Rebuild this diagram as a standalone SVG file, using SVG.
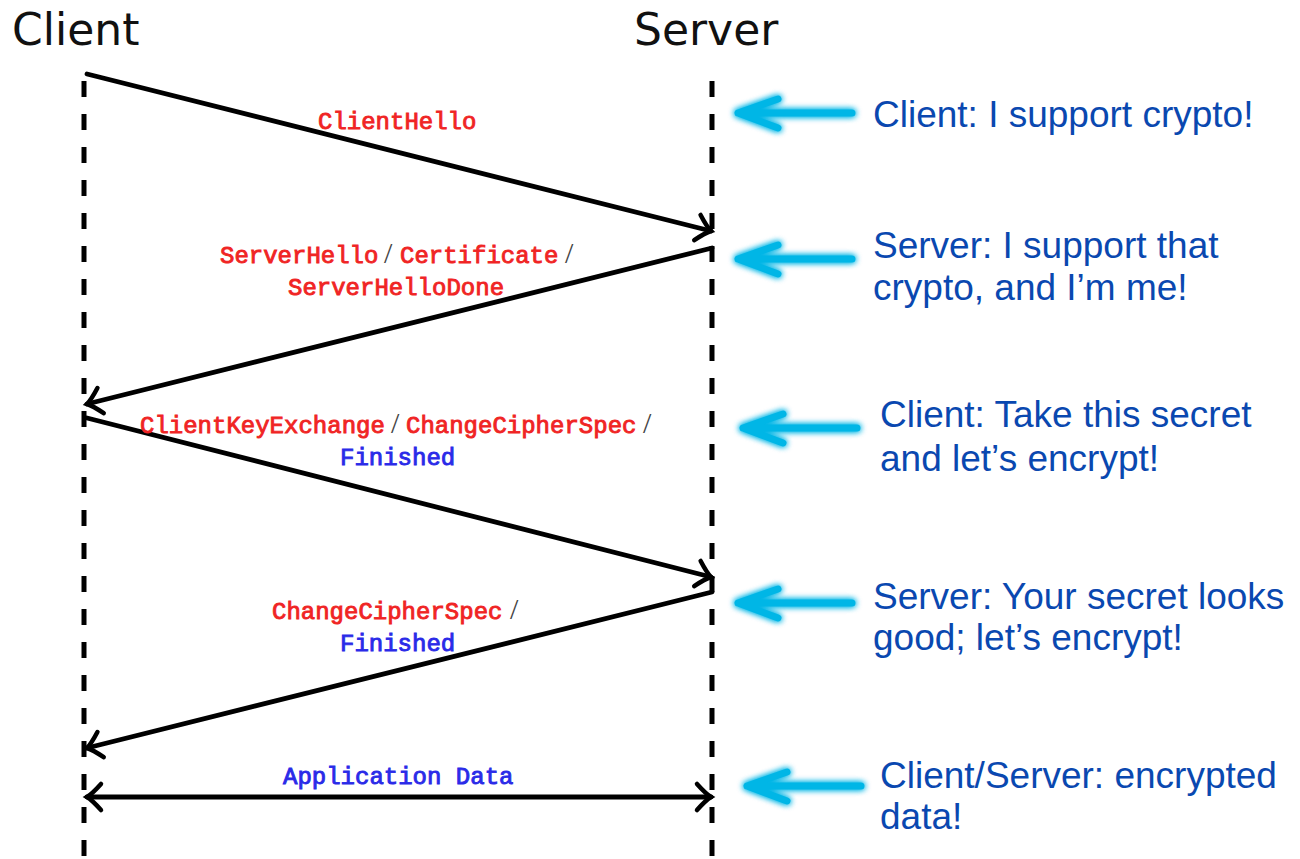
<svg xmlns="http://www.w3.org/2000/svg" width="1300" height="859" viewBox="0 0 1300 859">
  <style>
    .title { font-family: "DejaVu Sans", "Liberation Sans", sans-serif; font-size: 44px; fill: #111; }
    .life { stroke: #000; stroke-width: 5; stroke-dasharray: 16 17; fill: none; }
    .msg { stroke: #000; stroke-width: 4.8; fill: none; stroke-linecap: round; }
    .lbl { font-family: "Liberation Mono", "Courier New", monospace; font-size: 24px; stroke-width: 0.9px; }
    .red { fill: #f02424; stroke: #f02424; }
    .blue { fill: #2a2ae8; stroke: #2a2ae8; }
    .sl { font-family: "Liberation Serif", serif; font-size: 30px; fill: #444; }
    .note { font-family: "Liberation Sans", Arial, sans-serif; font-size: 37px; fill: #0a48b0; }
    .cyan { stroke: #00b6e6; stroke-width: 7; fill: none; stroke-linecap: round; stroke-linejoin: round; }
  </style>
  <defs>
    <marker id="tip" viewBox="-20 -20 24 40" refX="0" refY="0" markerWidth="24" markerHeight="40" markerUnits="userSpaceOnUse" orient="auto-start-reverse" overflow="visible">
      <path d="M -14,-13 Q -5,-3 0,0 Q -5,3 -14,13" fill="none" stroke="#000" stroke-width="4.5" stroke-linecap="round"/>
    </marker>
    <filter id="glow" x="-20%" y="-60%" width="140%" height="220%">
      <feGaussianBlur in="SourceGraphic" stdDeviation="3" result="b"/>
      <feMerge>
        <feMergeNode in="b"/>
        <feMergeNode in="b"/>
        <feMergeNode in="SourceGraphic"/>
      </feMerge>
    </filter>
    <path id="note-arrow" class="cyan" d="M 0,0 H 114 M 40,-14 L 0,0 L 40,15"/>
  </defs>
  <rect width="1300" height="859" fill="#fff"/>

  <!-- participants -->
  <g id="client">
    <text class="title" x="12" y="45">Client</text>
    <line class="life" x1="84" y1="81" x2="84" y2="859"/>
  </g>
  <g id="server">
    <text class="title" x="634" y="45">Server</text>
    <line class="life" x1="712" y1="81" x2="712" y2="859"/>
  </g>

  <!-- handshake messages -->
  <g id="connectors">
    <line class="msg" x1="87" y1="74" x2="711" y2="231" marker-end="url(#tip)"/>
    <line class="msg" x1="712" y1="248" x2="87" y2="404" marker-end="url(#tip)"/>
    <line class="msg" x1="87" y1="418" x2="711" y2="577" marker-end="url(#tip)"/>
    <line class="msg" x1="712" y1="592" x2="87" y2="748" marker-end="url(#tip)"/>
    <line class="msg" x1="87" y1="797" x2="711" y2="797" marker-start="url(#tip)" marker-end="url(#tip)"/>
  </g>

  <!-- message labels -->
  <g id="labels">
    <text class="lbl red" x="318" y="129">ClientHello</text>
    <text y="263"><tspan class="lbl red" x="220">ServerHello</tspan><tspan class="sl" x="384">/</tspan><tspan class="lbl red" x="400">Certificate</tspan><tspan class="sl" x="565">/</tspan></text>
    <text class="lbl red" x="288" y="295">ServerHelloDone</text>
    <text y="433"><tspan class="lbl red" x="140">ClientKeyExchange</tspan><tspan class="sl" x="391">/</tspan><tspan class="lbl red" x="406">ChangeCipherSpec</tspan><tspan class="sl" x="643">/</tspan></text>
    <text class="lbl blue" x="340" y="465">Finished</text>
    <text y="619"><tspan class="lbl red" x="272">ChangeCipherSpec</tspan><tspan class="sl" x="510">/</tspan></text>
    <text class="lbl blue" x="340" y="651">Finished</text>
    <text class="lbl blue" x="283" y="784">Application Data</text>
  </g>

  <!-- explanations -->
  <g id="note-1">
    <use href="#note-arrow" x="738" y="113" filter="url(#glow)"/>
    <text class="note" x="873" y="127">Client: I support crypto!</text>
  </g>
  <g id="note-2">
    <use href="#note-arrow" x="738" y="259" filter="url(#glow)"/>
    <text class="note" x="873" y="258">Server: I support that</text>
    <text class="note" x="873" y="300">crypto, and I’m me!</text>
  </g>
  <g id="note-3">
    <use href="#note-arrow" x="743" y="428" filter="url(#glow)"/>
    <text class="note" x="880" y="427">Client: Take this secret</text>
    <text class="note" x="880" y="471">and let’s encrypt!</text>
  </g>
  <g id="note-4">
    <use href="#note-arrow" x="738" y="603" filter="url(#glow)"/>
    <text class="note" x="873" y="609">Server: Your secret looks</text>
    <text class="note" x="873" y="650">good; let’s encrypt!</text>
  </g>
  <g id="note-5">
    <use href="#note-arrow" x="747" y="786" filter="url(#glow)"/>
    <text class="note" x="880" y="788">Client/Server: encrypted</text>
    <text class="note" x="880" y="829">data!</text>
  </g>
</svg>
